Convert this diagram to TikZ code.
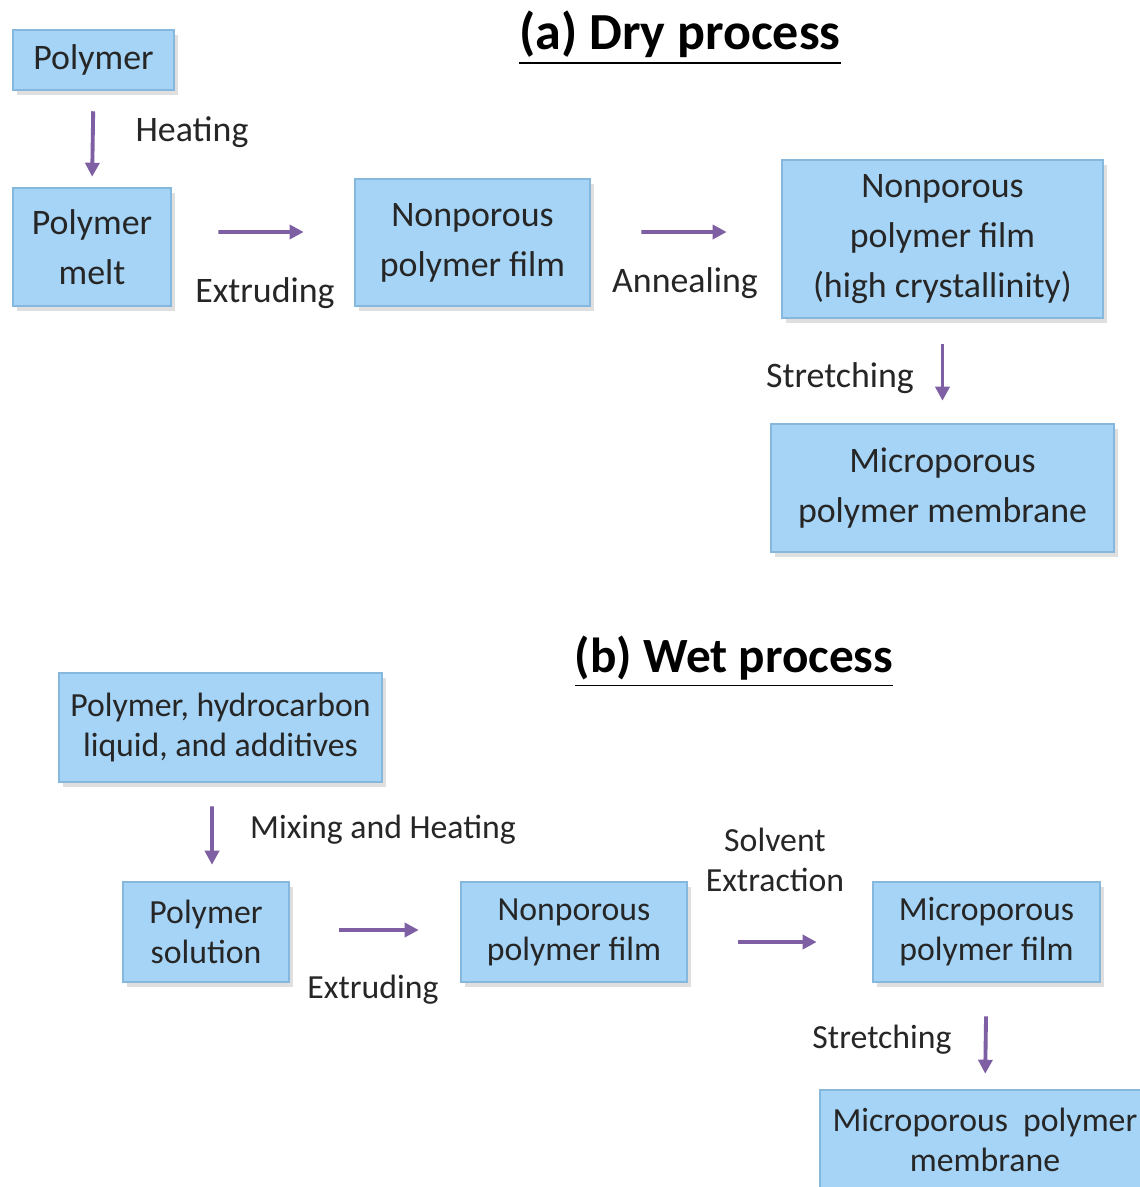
\documentclass[tikz,border=0pt]{standalone}
\usepackage{fontspec}
\setmainfont{Carlito}
\usepackage{xcolor}
\usetikzlibrary{arrows.meta,shadows}

\definecolor{boxfill}{HTML}{A6D4F6}
\definecolor{boxedge}{HTML}{86B8DE}
\definecolor{flowpurple}{HTML}{7E5FA3}
\definecolor{textgray}{HTML}{262626}

\begin{document}
\begin{tikzpicture}[x=0.01cm,y=-0.01cm,
   flow/.style={-{Triangle[length=1.4mm,width=1.4mm]},draw=flowpurple,line width=1.1pt},
   sec/.style={font=\fontsize{14.5}{16}\selectfont\bfseries,text=black},
   etape/.style={draw=boxedge,fill=boxfill,line width=0.7pt,align=center,inner sep=0pt,
      text=textgray,drop shadow={shadow xshift=0.4mm,shadow yshift=-0.5mm,opacity=0.25}},
   seche/.style={etape,font=\fontsize{10.2}{14.2}\selectfont},
   humide/.style={etape,font=\fontsize{9.6}{11.4}\selectfont},
   action/.style={align=center,text=textgray,inner sep=0pt}]

  \useasboundingbox[fill=white] (0,0) rectangle (1140,1187);

  % (a) dry process
  \node[sec,font=\fontsize{14.8}{16}\selectfont\bfseries] (titreA) at (680,38) {\underline{(a) Dry process}};
  \node[seche,minimum width=16.1mm,minimum height=6mm] (poly) at (93.5,60) {Polymer};
  \node[seche,minimum width=15.8mm,minimum height=11.8mm] (melt) at (92,247) {Polymer\\melt};
  \node[seche,minimum width=23.5mm,minimum height=12.7mm] (filmA) at (472.5,242.5) {Nonporous\\polymer film};
  \node[seche,minimum width=32.1mm,minimum height=15.8mm] (cryst) at (942.5,239) {Nonporous\\polymer film\\(high crystallinity)};
  \node[seche,minimum width=34.3mm,minimum height=12.8mm] (membA) at (942.5,488) {Microporous\\polymer membrane};

  \node[action,font=\fontsize{10.2}{12}\selectfont] (heat) at (192,132) {Heating};
  \node[action,font=\fontsize{10.2}{12}\selectfont] (extA) at (265,293) {Extruding};
  \node[action,font=\fontsize{10.2}{12}\selectfont] (anneal) at (685,283) {Annealing};
  \node[action,font=\fontsize{10.2}{12}\selectfont] (stretchA) at (840,378) {Stretching};

  % (b) wet process
  \node[sec,font=\fontsize{14}{16}\selectfont\bfseries] (titreB) at (734,662) {\underline{(b) Wet process}};
  \node[humide,minimum width=32.3mm,minimum height=10.9mm] (mix) at (220.5,727.5) {Polymer, hydrocarbon\\liquid, and additives};
  \node[humide,minimum width=16.6mm,minimum height=10mm] (sol) at (206,932) {Polymer\\solution};
  \node[humide,minimum width=22.6mm,minimum height=10mm] (filmB) at (574,932) {Nonporous\\polymer film};
  \node[humide,minimum width=22.7mm,minimum height=10mm] (mfilm) at (986.5,932) {Microporous\\polymer film};
  \node[humide,minimum width=33mm,minimum height=10mm] (membB) at (985,1140) {Microporous\ \ polymer\\membrane};

  \node[action,font=\fontsize{9.6}{11.4}\selectfont] (mixheat) at (383,830) {Mixing and Heating};
  \node[action,font=\fontsize{9.6}{11.4}\selectfont] (extB) at (373,990) {Extruding};
  \node[action,font=\fontsize{9.6}{11.4}\selectfont] (solvent) at (775,860) {Solvent\\Extraction};
  \node[action,font=\fontsize{9.6}{11.4}\selectfont] (stretchB) at (882,1040) {Stretching};

  % from/shift/to/shift/shorten start/shorten end
  \foreach \from/\fx/\fy/\to/\tx/\ty/\a/\b in {
      poly.south/0mm/0mm/melt.north/0mm/0mm/2mm/1mm,
      melt.east/0mm/1.5mm/filmA.west/0mm/1.05mm/4.6mm/5mm,
      filmA.east/0mm/1.05mm/cryst.west/0mm/0.7mm/5mm/5.4mm,
      cryst.south/0mm/0mm/membA.north/0mm/0mm/2.5mm/2.2mm,
      mix.south/-0.85mm/0mm/sol.north/0.6mm/0mm/2.3mm/1.6mm,
      sol.east/0mm/0.2mm/filmB.west/0mm/0.2mm/4.9mm/4.1mm,
      filmB.east/0mm/-1mm/mfilm.west/0mm/-1mm/5mm/5.5mm,
      mfilm.south/0mm/0mm/membB.north/0mm/0mm/3.3mm/1.5mm}
    \draw[flow,shorten <=\a,shorten >=\b]
      ([xshift=\fx,yshift=\fy]\from) -- ([xshift=\tx,yshift=\ty]\to);
\end{tikzpicture}
\end{document}
